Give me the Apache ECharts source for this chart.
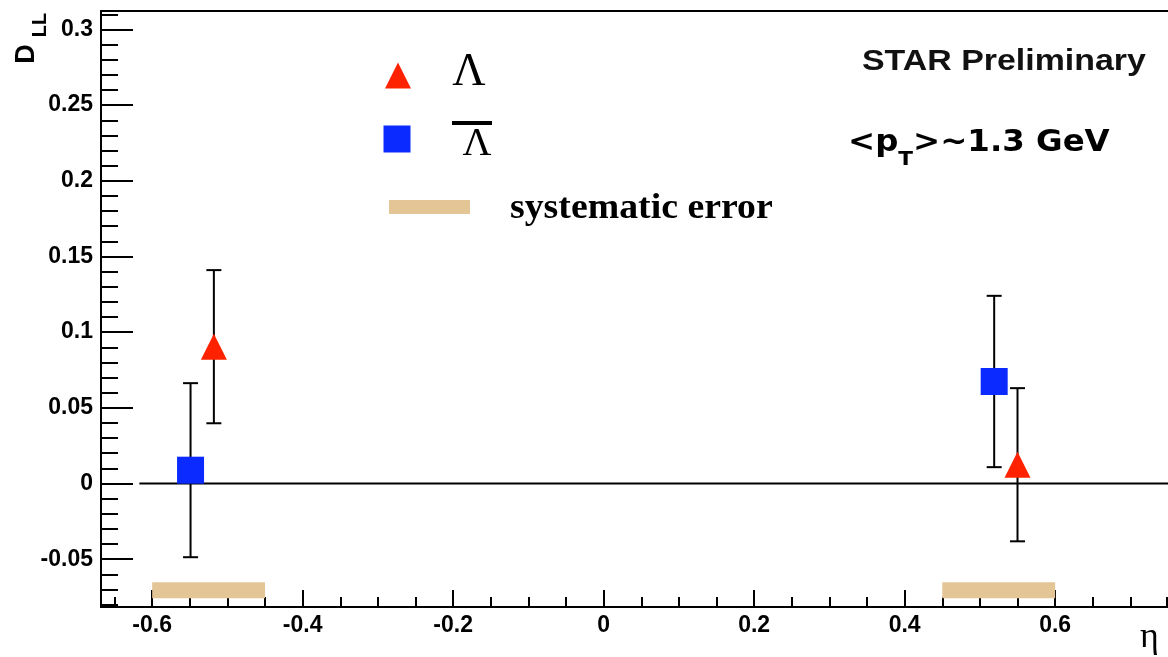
<!DOCTYPE html>
<html><head><meta charset="utf-8">
<script src="https://cdn.jsdelivr.net/npm/echarts@6/dist/echarts.min.js"></script>
<style>html,body{margin:0;padding:0;background:#fff}#c{width:1168px;height:657px}</style>
</head><body><div id="c"></div>
<script>
// ---- data ----
const lambdaEta = [-0.518, 0.55];
const lambdaDLL = [0.0904, 0.0124];
const lambdaErr = [0.0506, 0.0506];

const antiLambdaEta = [-0.549, 0.519];
const antiLambdaDLL = [0.0088, 0.0674];
const antiLambdaErr = [0.0575, 0.0566];

const sysEtaLow = [-0.6, 0.45];
const sysEtaHigh = [-0.45, 0.6];
const sysBandBottom = [-0.0758, -0.0758];
const sysBandTop = [-0.0652, -0.0652];

const zeroLineRange = [-0.617, 0.75];

const xMajorTicks = [-0.6, -0.4, -0.2, 0, 0.2, 0.4, 0.6];
const xMinorTicks = [-0.65, -0.6, -0.55, -0.5, -0.45, -0.4, -0.35, -0.3, -0.25, -0.2, -0.15, -0.1, -0.05, 0,
  0.05, 0.1, 0.15, 0.2, 0.25, 0.3, 0.35, 0.4, 0.45, 0.5, 0.55, 0.6, 0.65, 0.7, 0.748];
const yMajorTicks = [-0.05, 0, 0.05, 0.1, 0.15, 0.2, 0.25, 0.3];
const yMinorTicks = [-0.08, -0.07, -0.06, -0.05, -0.04, -0.03, -0.02, -0.01, 0, 0.01, 0.02, 0.03, 0.04, 0.05,
  0.06, 0.07, 0.08, 0.09, 0.1, 0.11, 0.12, 0.13, 0.14, 0.15, 0.16, 0.17, 0.18, 0.19, 0.2, 0.21, 0.22,
  0.23, 0.24, 0.25, 0.26, 0.27, 0.28, 0.29, 0.3, 0.31];

const xMin = -0.668, xMax = 0.75;
const yMin = -0.0816, yMax = 0.3122;

// ---- build ----
const RED = '#ff2200', BLUE = '#0a2aff', TAN = '#e4c596';
const sansBold = '"Liberation Sans", Arial, sans-serif';

function errRender(params, api) {
  const x = api.value(0), y = api.value(1), e = api.value(2);
  const top = api.coord([x, y + e]), bot = api.coord([x, y - e]);
  const cap = 7.5, st = { stroke: '#000', lineWidth: 2 };
  return { type: 'group', children: [
    { type: 'line', shape: { x1: top[0], y1: top[1], x2: bot[0], y2: bot[1] }, style: st },
    { type: 'line', shape: { x1: top[0] - cap, y1: top[1], x2: top[0] + cap, y2: top[1] }, style: st },
    { type: 'line', shape: { x1: bot[0] - cap, y1: bot[1], x2: bot[0] + cap, y2: bot[1] }, style: st }
  ]};
}
function sysRender(params, api) {
  const p0 = api.coord([api.value(0), api.value(3)]);
  const p1 = api.coord([api.value(1), api.value(2)]);
  return { type: 'rect', shape: { x: p0[0], y: p0[1], width: p1[0] - p0[0], height: p1[1] - p0[1] },
    style: { fill: TAN } };
}

const lambdaPts = lambdaEta.map((x, i) => [x, lambdaDLL[i], lambdaErr[i]]);
const antiPts = antiLambdaEta.map((x, i) => [x, antiLambdaDLL[i], antiLambdaErr[i]]);
const sysData = sysEtaLow.map((x, i) => [x, sysEtaHigh[i], sysBandBottom[i], sysBandTop[i]]);

const axisLine = { show: true, onZero: false, lineStyle: { color: '#000', width: 2 } };
const noLine = { show: false, onZero: false };
const tickStyle = { color: '#000', width: 2 };
const labelFont = { color: '#000', fontFamily: sansBold, fontWeight: 'bold', fontSize: 23 };

const option = {
  backgroundColor: '#fff',
  animation: false,
  grid: { left: 101, top: 11, right: 0, bottom: 50, containLabel: false },
  xAxis: [
    { type: 'value', position: 'bottom', min: xMin, max: xMax, axisLine: axisLine,
      axisTick: { show: true, inside: true, length: 17, customValues: xMajorTicks, lineStyle: tickStyle },
      axisLabel: Object.assign({ customValues: xMajorTicks, margin: 7 }, labelFont),
      splitLine: { show: false } },
    { type: 'value', position: 'bottom', min: xMin, max: xMax, axisLine: noLine,
      axisTick: { show: true, inside: true, length: 10, customValues: xMinorTicks, lineStyle: tickStyle },
      axisLabel: { show: false }, splitLine: { show: false } },
    { type: 'value', position: 'top', min: xMin, max: xMax, axisLine: axisLine,
      axisTick: { show: false }, axisLabel: { show: false }, splitLine: { show: false } }
  ],
  yAxis: [
    { type: 'value', position: 'left', min: yMin, max: yMax, axisLine: axisLine,
      axisTick: { show: true, inside: true, length: 32, customValues: yMajorTicks, lineStyle: tickStyle },
      axisLabel: Object.assign({ customValues: yMajorTicks, margin: 8 }, labelFont),
      splitLine: { show: false } },
    { type: 'value', position: 'left', min: yMin, max: yMax, axisLine: noLine,
      axisTick: { show: true, inside: true, length: 17, customValues: yMinorTicks, lineStyle: tickStyle },
      axisLabel: { show: false }, splitLine: { show: false } }
  ],
  series: [
    { name: 'systematic error', type: 'custom', renderItem: sysRender, data: sysData,
      encode: { x: [0, 1], y: [2, 3] }, z: 1 },
    { name: 'zero', type: 'line', data: [[zeroLineRange[0], 0], [zeroLineRange[1], 0]], symbol: 'none',
      lineStyle: { color: '#000', width: 2 }, z: 2, silent: true },
    { name: 'Λ err', type: 'custom', renderItem: errRender, data: lambdaPts, encode: { x: 0, y: 1 }, z: 3 },
    { name: 'anti-Λ err', type: 'custom', renderItem: errRender, data: antiPts, encode: { x: 0, y: 1 }, z: 3 },
    { name: 'Λ', type: 'scatter', symbol: 'triangle', symbolSize: 26, data: lambdaPts.map(p => [p[0], p[1]]),
      itemStyle: { color: RED, opacity: 1 }, z: 5 },
    { name: 'anti-Λ', type: 'scatter', symbol: 'rect', symbolSize: 27, data: antiPts.map(p => [p[0], p[1]]),
      itemStyle: { color: BLUE, opacity: 1 }, z: 5 }
  ],
  graphic: [
    { type: 'text', x: 27, y: 54, rotation: Math.PI / 2,
      style: { text: 'D', font: 'bold 27px ' + sansBold, fill: '#000', align: 'center', verticalAlign: 'middle', textAlign: 'center', textVerticalAlign: 'middle' } },
    { type: 'text', x: 40, y: 25, rotation: Math.PI / 2,
      style: { text: 'LL', font: 'bold 20px ' + sansBold, fill: '#000', align: 'center', verticalAlign: 'middle', textAlign: 'center', textVerticalAlign: 'middle' } },
    { type: 'polygon', shape: { points: [[385, 88.5], [411, 88.5], [398, 62.5]] }, style: { fill: RED } },
    { type: 'text', x: 469, y: 73,
      style: { text: 'Λ', font: '46px "Liberation Serif", serif', fill: '#000', align: 'center', verticalAlign: 'middle', textAlign: 'center', textVerticalAlign: 'middle' } },
    { type: 'rect', shape: { x: 383.5, y: 125.5, width: 27, height: 27 }, style: { fill: BLUE } },
    { type: 'text', x: 477, y: 144,
      style: { text: 'Λ', font: '40px "Liberation Serif", serif', fill: '#000', align: 'center', verticalAlign: 'middle', textAlign: 'center', textVerticalAlign: 'middle' } },
    { type: 'rect', shape: { x: 452, y: 121, width: 40, height: 4 }, style: { fill: '#000' } },
    { type: 'rect', shape: { x: 389, y: 200, width: 81, height: 14 }, style: { fill: TAN } },
    { type: 'text', x: 510, y: 208.5, scaleX: 1.05,
      style: { text: 'systematic error', font: 'bold 36px "Liberation Serif", serif', fill: '#000', align: 'left', verticalAlign: 'middle', textAlign: 'left', textVerticalAlign: 'middle' } },
    { type: 'text', x: 862, y: 62, scaleX: 1.13,
      style: { text: 'STAR Preliminary', font: 'bold 30px ' + sansBold, fill: '#111', align: 'left', verticalAlign: 'middle', textAlign: 'left', textVerticalAlign: 'middle' } },
    { type: 'text', x: 848, y: 160, scaleX: 1.08,
      style: { text: '{m|<p}{sub|T}{m|>~1.3 GeV}', fill: '#000',
        align: 'left', verticalAlign: 'middle', textAlign: 'left', textVerticalAlign: 'middle',
        rich: {
          m: { font: 'bold 30px "DejaVu Sans", Verdana, sans-serif', fill: '#000', lineHeight: 30, verticalAlign: 'top' },
          sub: { font: 'bold 20px "DejaVu Sans", Verdana, sans-serif', fill: '#000', lineHeight: 64, verticalAlign: 'middle' }
        } } },
    { type: 'text', x: 1140, y: 638,
      style: { text: 'η', font: '36px "Liberation Serif", serif', fill: '#000', align: 'left', verticalAlign: 'middle', textAlign: 'left', textVerticalAlign: 'middle' } }
  ]
};

const chart = echarts.init(document.getElementById('c'), null, { renderer: 'canvas' });
chart.setOption(option);
</script>
</body></html>
